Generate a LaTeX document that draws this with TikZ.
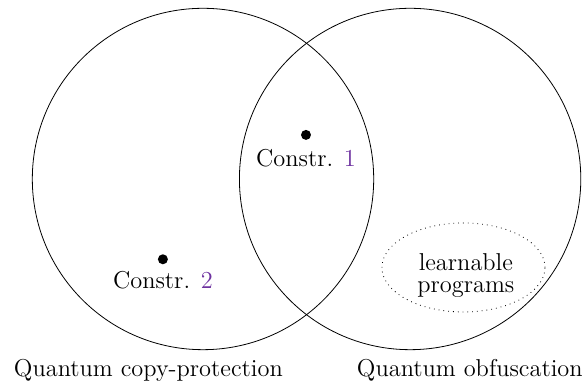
\documentclass[tikz,border=0pt]{standalone}
\usepackage{tikz}
\definecolor{constrpurple}{RGB}{110,50,160}
\usetikzlibrary{positioning,shapes.geometric}

\begin{document}
\begin{tikzpicture}[
        every node/.style={font=\fontsize{12.2pt}{11pt}\selectfont},
        setnode/.style={draw,circle,minimum size=6cm,inner sep=0pt},
        dotnode/.style={fill,circle,inner sep=0pt,minimum size=5pt},
        constrnode/.style={inner sep=0pt},
        classnode/.style={draw,dotted,ellipse,minimum width=2.865cm,minimum height=1.564cm,inner sep=0pt},
        titlenode/.style={anchor=base,inner sep=0pt}
        ]
        \useasboundingbox (-3.568,-3.620) rectangle (6.749,3.146);

        % the two sets
        \node[setnode] (cp) at (0,0) {};
        \node[setnode] (obf) at (3.64,0) {};

        % the constructions
        \node[dotnode] (c1) at (1.81,0.775) {};
        \node[constrnode,below=4.5pt of c1] (c1text) {Constr. \textcolor{constrpurple}{1}};
        \node[dotnode] (c2) at (-0.705,-1.411) {};
        \node[constrnode,below=3.2pt of c2] (c2text) {Constr. \textcolor{constrpurple}{2}};

        % the learnable programs
        \node[classnode] (learn) at (4.578,-1.555) {};
        \node[constrnode,align=center] (learntext) at (4.62,-1.69) {learnable\\programs};

        % the names of the sets
        \node[titlenode] (cpname) at (-0.96,-3.48) {Quantum copy-protection};
        \node[titlenode] (obfname) at (4.69,-3.48) {Quantum obfuscation};
\end{tikzpicture}
\end{document}
